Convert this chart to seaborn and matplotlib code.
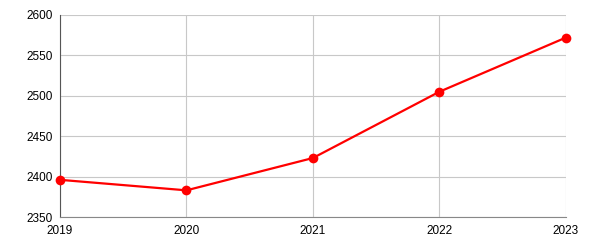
import matplotlib
matplotlib.use("Agg")
import matplotlib.pyplot as plt
import seaborn as sns
import pandas as pd

years = [2019, 2020, 2021, 2022, 2023]
values = [2396, 2383, 2423, 2505, 2572]
y_ticks = [2350, 2400, 2450, 2500, 2550, 2600]

sns.set_style("white")
plt.rcParams['font.family'] = ['Liberation Sans', 'DejaVu Sans']

df = pd.DataFrame({"year": years, "value": values})
fig = plt.figure(figsize=(6, 2.5), dpi=100)
ax = fig.add_axes([0.1, 0.132, 0.843, 0.808])
ax.grid(True, color="#c8c8c8", linewidth=0.8)
ax.set_axisbelow(True)
sns.lineplot(data=df, x="year", y="value", ax=ax, color="#ff0000", linewidth=1.6,
             marker="o", markersize=7, markeredgewidth=0, zorder=3, clip_on=False)
ax.set_xlim(2019, 2023)
ax.set_ylim(2350, 2600)
ax.set_xticks(years)
ax.set_xticklabels([str(y) for y in years])
ax.set_yticks(y_ticks)
ax.set_xlabel("")
ax.set_ylabel("")
for s in ["top", "right"]:
    ax.spines[s].set_visible(False)
ax.spines["left"].set_color("#555555")
ax.spines["bottom"].set_color("#888888")
ax.spines["left"].set_linewidth(0.8)
ax.spines["bottom"].set_linewidth(0.8)
ax.tick_params(axis="both", direction="out", length=4, width=0.8, color="#333333",
               labelsize=8.5, labelcolor="#000000", pad=1.5)
ax.tick_params(axis="x", pad=2)
fig.savefig("out.png", dpi=100)
